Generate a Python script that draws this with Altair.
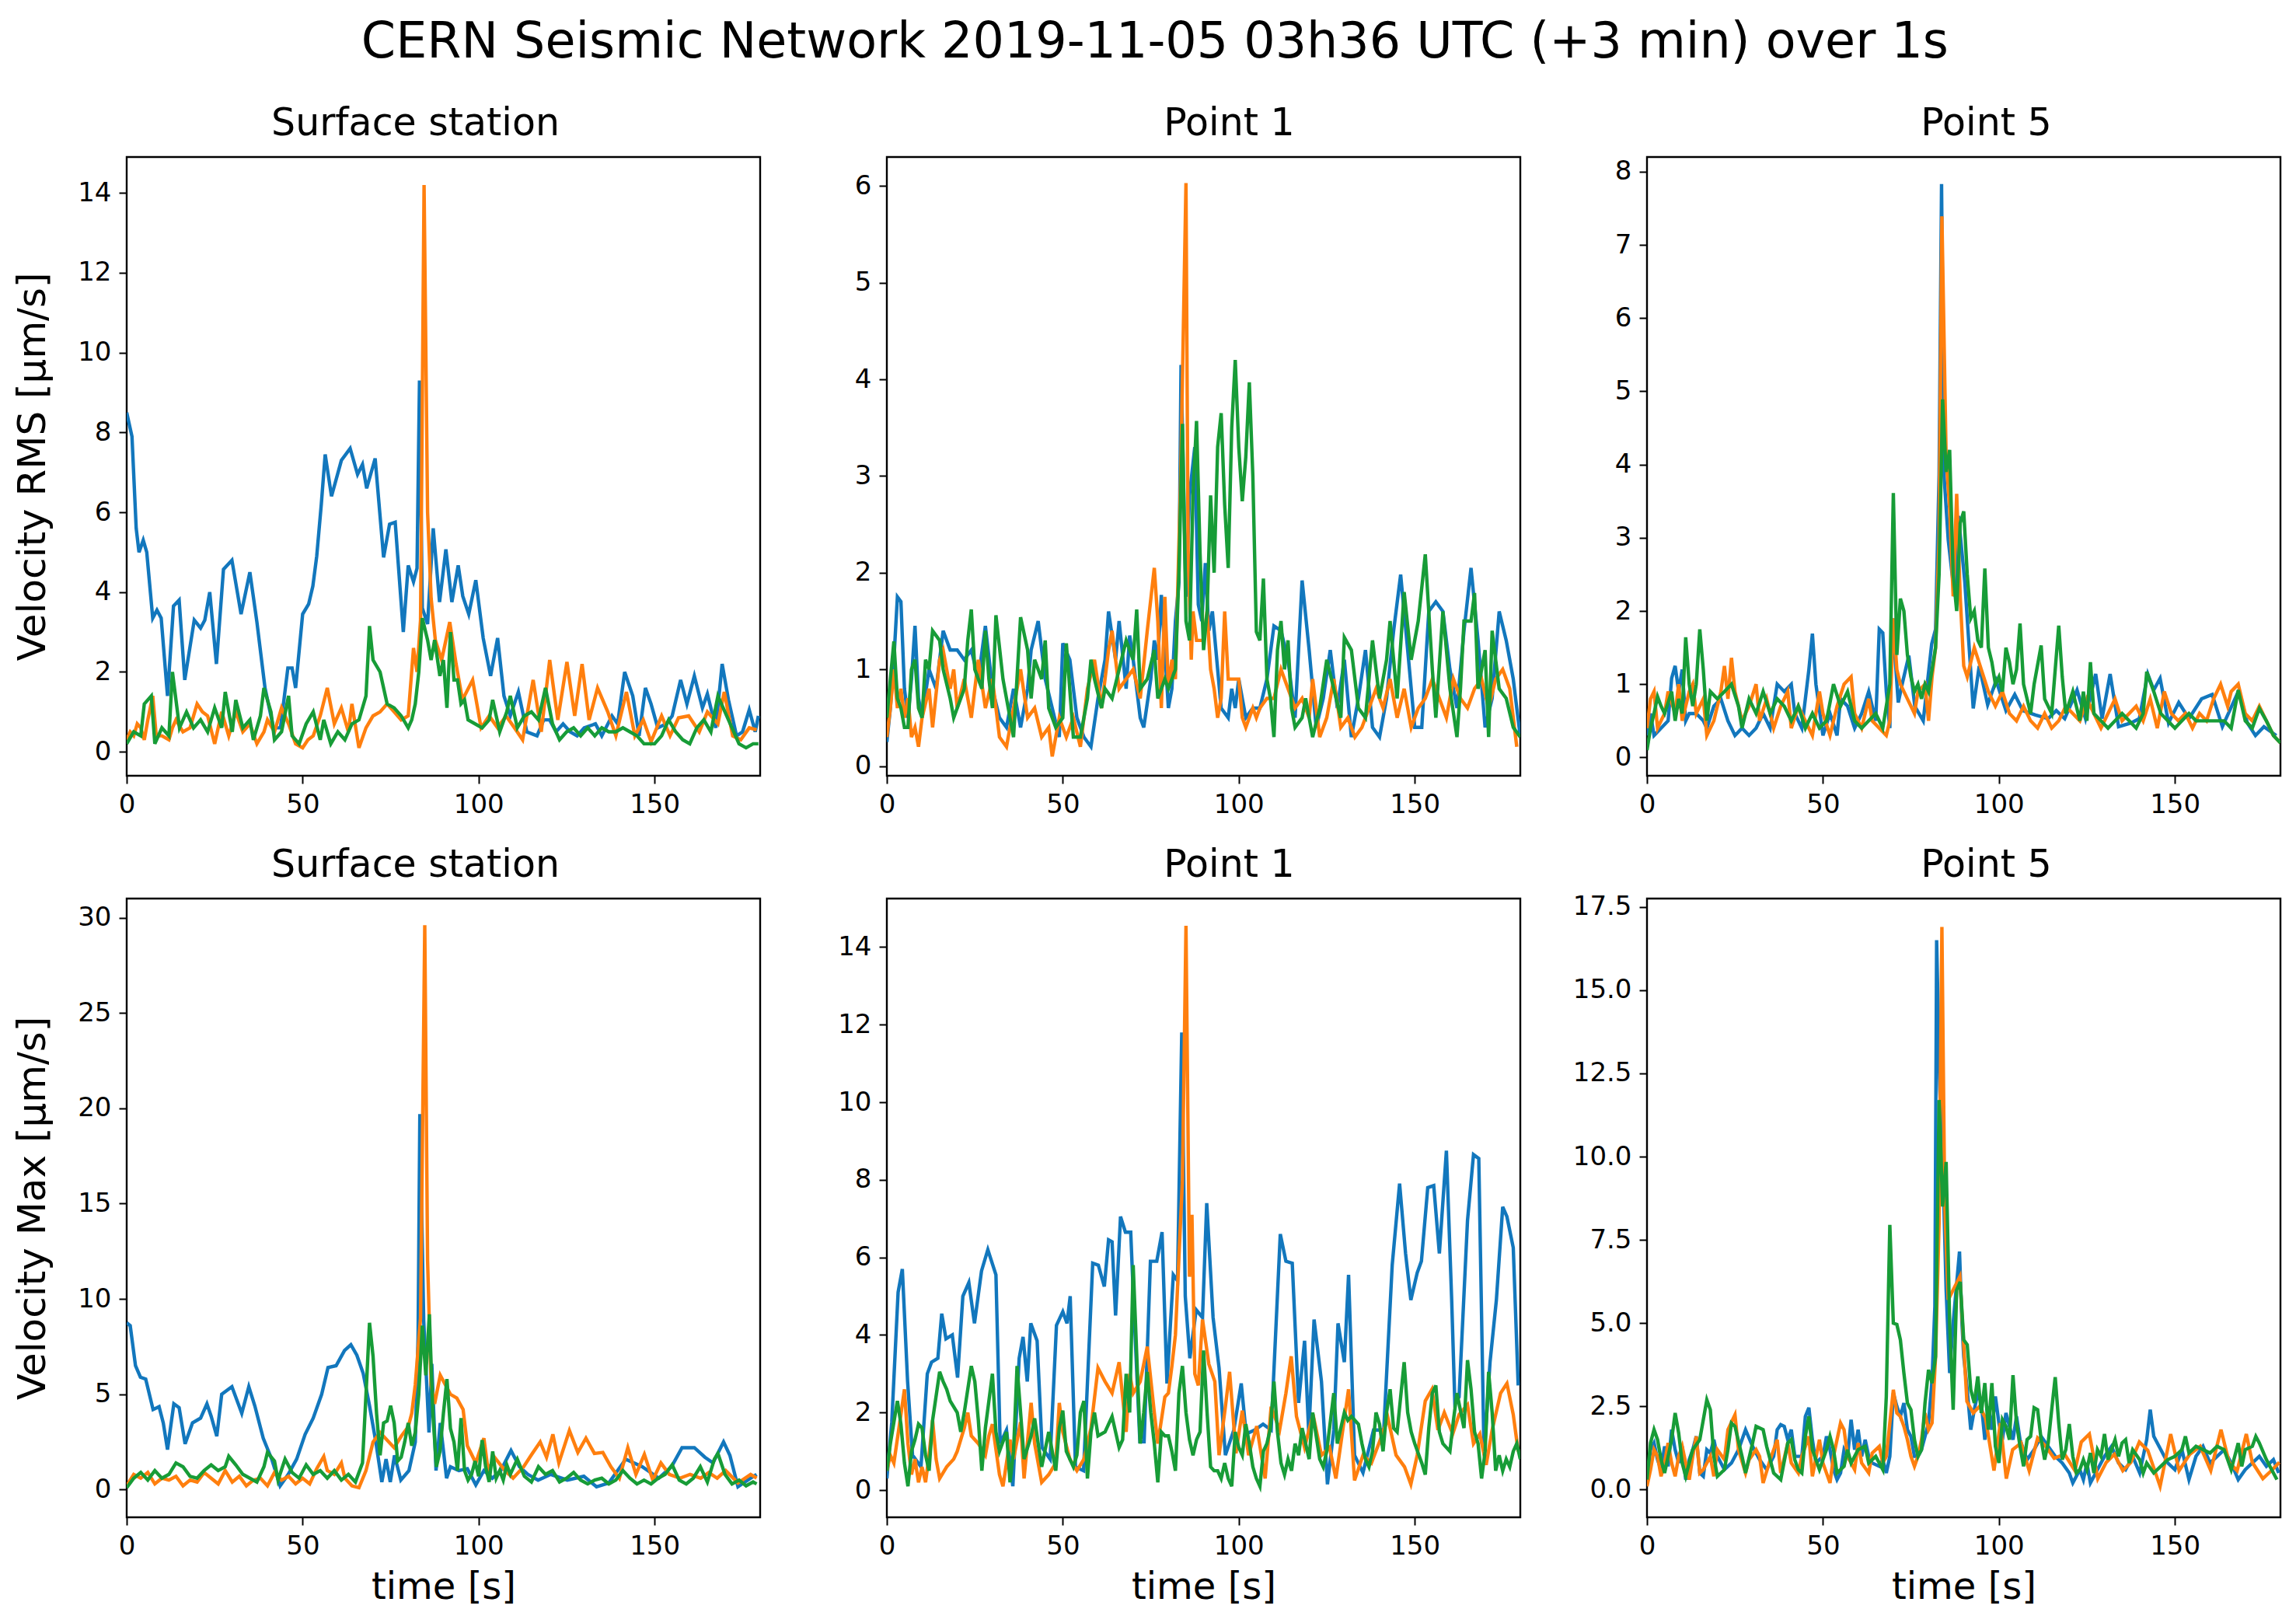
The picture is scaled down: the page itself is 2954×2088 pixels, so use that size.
import altair as alt
import pandas as pd

TITLE = "CERN Seismic Network 2019-11-05 03h36 UTC (+3 min) over 1s"
PANEL_TITLES = ["Surface station", "Point 1", "Point 5"]
Y_TITLES = ["Velocity RMS [μm/s]", "Velocity Max [μm/s]"]
X_TITLE = "time [s]"
X_TICKS = [0, 50, 100, 150]
COLORS = ["#1277bd", "#ff7f0e", "#179c37"]

# ---------------- Row 1 : Velocity RMS ----------------
P1_BLUE = [[0,8.5],[1.5,7.9],[2.7,5.6],[3.5,5.0],[4.7,5.3],[5.7,5.0],[7.4,3.35],[8.6,3.55],[9.8,3.35],[11.6,1.4],[13.3,3.65],[14.9,3.8],[16.5,1.8],[19.2,3.3],[21,3.1],[22.2,3.3],[23.6,4.0],[25.5,2.2],[27.5,4.57],[29.9,4.8],[32.5,3.45],[35,4.5],[37,3.25],[39.3,1.6],[41.7,0.6],[43.7,0.6],[45.8,2.1],[47,2.1],[48,1.6],[50,3.45],[51.7,3.7],[52.9,4.15],[54,4.9],[55.3,6.2],[56.4,7.45],[58.2,6.4],[61,7.3],[63.5,7.6],[65.6,6.95],[67,7.2],[68.2,6.6],[70.6,7.35],[73,4.87],[74.7,5.7],[76.3,5.75],[78.6,3.0],[80,4.67],[81.5,4.26],[82.5,4.6],[83.2,9.3],[84,3.6],[85.5,3.2],[87.1,5.6],[88.9,3.75],[90.7,5.07],[92.4,3.75],[94.2,4.67],[95.5,3.9],[97.2,3.45],[99.2,4.3],[101.3,2.85],[103.4,1.9],[105.4,2.85],[107.2,1.4],[109,0.9],[111.3,1.5],[113.7,0.5],[116.6,0.4],[118.5,0.8],[120.2,0.8],[122,0.5],[124,0.7],[126,0.5],[128,0.4],[130,0.6],[133.2,0.7],[135,0.4],[137.9,0.9],[139.5,0.7],[141.5,2.0],[143.8,1.4],[145.6,0.4],[147.4,1.6],[149,1.2],[150.9,0.6],[153.3,0.7],[155,0.9],[157.4,1.8],[159.2,1.2],[161.3,1.9],[163.6,1.1],[165,1.45],[167.4,0.6],[169.2,2.2],[171,1.3],[173.3,0.4],[175,0.5],[176.9,1.05],[178.6,0.5],[179.5,0.9]]
P1_ORANGE = [[0,0.3],[1,0.5],[2,0.4],[3,0.7],[4,0.6],[5,0.3],[6,0.8],[7.4,1.4],[8.4,0.4],[10,0.4],[12,0.3],[13,0.6],[14,0.8],[16,0.5],[18,0.6],[20,1.2],[21.5,1.0],[23,0.9],[25,0.2],[27,1.0],[29,0.4],[31,1.0],[33,0.5],[35,0.7],[37,0.2],[39,0.5],[40,0.8],[42,0.5],[44,1.1],[46,0.7],[48,0.2],[50,0.1],[51.5,0.3],[53,0.4],[55,0.9],[57,1.6],[59,0.7],[61,1.1],[63,0.5],[64,1.2],[66,0.1],[68,0.6],[70,0.9],[72,1.0],[74,1.2],[76,1.0],[78,0.8],[80,0.9],[81.5,2.6],[82.5,2.0],[83.5,3.3],[84.5,14.2],[85.5,6.0],[86.5,3.85],[87.7,2.8],[89.5,2.3],[91.8,3.25],[93.6,2.2],[95.4,1.3],[98.3,1.8],[100.7,0.6],[103,0.9],[105.4,0.6],[107.8,0.9],[110.2,0.6],[112.5,0.3],[115.5,1.8],[117.8,0.5],[120.2,2.3],[122.5,0.8],[125.1,2.25],[127.3,0.9],[129.4,2.2],[131.4,0.8],[133.8,1.6],[136.7,1.0],[139,0.4],[142,1.5],[144.4,0.4],[146.8,0.8],[149,0.25],[152,0.9],[154.4,0.4],[156.8,0.85],[159.7,0.9],[162.7,0.5],[165,1.0],[168,0.7],[169.8,1.5],[172.2,0.4],[174.5,0.3],[176.9,0.6],[179,0.55]]
P1_GREEN = [[0,0.2],[2,0.5],[4,0.4],[5,1.2],[7,1.4],[8,0.2],[10,0.6],[12,0.4],[13,2.0],[15,0.6],[17,1.0],[19,0.6],[21,0.8],[23,0.5],[25,1.1],[27,0.6],[28,1.5],[30,0.5],[31,1.3],[33,0.6],[35,0.8],[36,0.3],[38,0.9],[39,1.6],[41,1.0],[42,0.3],[44,0.5],[46,1.4],[47,0.4],[49,0.2],[51,0.7],[53,1.0],[55,0.3],[56,0.8],[58,0.2],[60,0.5],[62,0.3],[64,0.7],[66,0.8],[68,1.4],[69,3.15],[70,2.3],[72,2.0],[74,1.2],[76,1.1],[78,0.9],[80,0.6],[81,0.8],[82,1.2],[83,2.0],[84,3.35],[85.5,2.8],[86.5,2.3],[87.5,2.8],[89,1.9],[90,2.3],[91,1.1],[92,3.0],[93,1.8],[94,1.8],[95,1.2],[96,1.3],[97,0.8],[99,0.7],[101,0.6],[103,0.8],[104,1.3],[106,0.5],[108,1.0],[109,1.4],[111,0.6],[113,0.9],[115,1.0],[117,0.8],[119,1.6],[121,0.7],[123,0.3],[125,0.5],[127,0.6],[129,0.4],[131,0.6],[133,0.4],[135,0.6],[137,0.5],[139,0.5],[141,0.6],[143,0.5],[145,0.4],[147,0.2],[150,0.2],[152,0.4],[154,0.8],[156,0.5],[158,0.3],[160,0.2],[162,0.6],[164,0.8],[166,0.5],[168,1.4],[170,1.0],[172,0.6],[174,0.2],[176,0.1],[178,0.2],[179.5,0.2]]

P2_BLUE = [[0,0.25],[1,0.6],[2,1.1],[3,1.75],[4,1.7],[5,0.8],[6,0.5],[7,0.9],[8,1.45],[9,0.7],[10,0.5],[12,1.0],[14,0.8],[16,1.4],[18,1.2],[20,1.2],[22,1.1],[24,1.2],[26,0.9],[28,1.45],[30,0.8],[32,0.5],[34,0.4],[36,0.8],[38,0.4],[40,0.8],[41,1.2],[43,1.5],[45,0.9],[47,0.6],[49,0.3],[50,1.27],[52,1.1],[54,0.5],[56,0.3],[58,0.2],[60,0.7],[62,1.1],[63,1.6],[65,1.1],[66,1.5],[68,0.8],[69,1.35],[70,1.1],[72,0.5],[73,0.4],[75,0.9],[76,1.3],[77,1.1],[78,1.77],[80,0.6],[81,0.8],[82,1.5],[83,1.9],[83.6,4.15],[85,1.75],[86,2.8],[87.5,3.3],[88.5,1.67],[89.5,1.5],[90.5,2.1],[91.5,1.4],[92.5,1.6],[93.5,1.2],[95,0.6],[97,0.5],[98,0.8],[99,0.6],[100,0.9],[102,0.5],[104,0.6],[106,0.6],[108,0.9],[110,1.45],[112,1.4],[114,1.1],[116,0.5],[118,1.92],[120,1.2],[122,0.4],[124,0.7],[126,1.2],[128,0.6],[130,1.1],[132,0.3],[134,0.7],[136,1.2],[138,0.4],[140,0.3],[142,0.7],[144,1.4],[146,1.98],[148,1.2],[150,0.4],[152,0.4],[154,1.6],[156,1.7],[158,1.6],[160,1.0],[162,0.6],[164,1.4],[166,2.05],[168,1.3],[170,0.4],[172,0.7],[174,1.6],[176,1.3],[178,0.9],[180,0.3]]
P2_ORANGE = [[0,0.3],[1,0.6],[2,1.0],[3,0.6],[4,0.8],[5,0.5],[6,0.7],[7,0.3],[8,0.4],[9,0.2],[10,0.5],[12,0.8],[13,0.4],[15,1.1],[16,1.2],[18,0.8],[19,1.0],[20,0.6],[22,0.9],[24,0.5],[26,1.1],[28,0.6],[30,0.9],[32,0.3],[34,0.2],[36,0.6],[38,1.0],[40,0.5],[42,0.6],[44,0.3],[46,0.4],[47,0.1],[49,0.5],[51,0.3],[53,0.5],[55,0.2],[57,0.8],[59,1.1],[61,0.6],[63,1.2],[64,1.4],[66,0.8],[68,0.9],[70,1.0],[72,0.7],[74,1.4],[76,2.05],[77,1.5],[78,0.6],[79,1.75],[80,0.8],[81,1.1],[82,0.9],[83.5,3.0],[85,6.03],[85.6,2.25],[86.5,1.1],[87,1.6],[88,1.3],[90,1.3],[91,1.6],[92,1.0],[93,0.8],[94,0.5],[95,0.7],[96,1.6],[97,0.9],[98,0.9],[100,0.9],[101,0.5],[102,0.4],[104,0.6],[105,0.5],[106,0.6],[108,0.7],[110,0.7],[112,1.0],[114,0.8],[116,0.6],[118,0.7],[120,0.5],[121,0.9],[123,0.3],[125,0.5],[127,0.9],[129,0.4],[131,0.5],[133,0.3],[135,0.4],[137,0.6],[139,0.8],[141,0.6],[143,0.9],[145,0.5],[147,0.8],[149,0.4],[151,0.6],[153,0.7],[155,0.9],[157,0.7],[159,0.5],[161,0.9],[163,0.7],[165,0.6],[167,0.8],[169,0.9],[171,0.6],[173,0.9],[175,1.0],[177,0.8],[179,0.2]]
P2_GREEN = [[0,0.5],[1,0.9],[2,1.29],[3,0.7],[4,0.6],[5,0.4],[6,0.4],[7,1.0],[8,1.1],[9,0.6],[10,0.5],[11,1.1],[12,1.0],[13,1.4],[15,1.3],[16,1.0],[18,0.7],[19,0.5],[21,0.7],[22,0.8],[23,1.3],[24,1.62],[25,1.0],[27,0.8],[28,1.4],[29,0.9],[30,0.6],[31,1.56],[33,0.9],[35,0.5],[36,0.3],[38,1.54],[40,1.2],[41,0.7],[42,1.1],[44,0.9],[45,1.3],[46,0.6],[48,0.4],[50,0.5],[51,1.27],[53,0.3],[55,0.3],[57,0.7],[58,1.1],[59,0.9],[61,0.6],[62,0.8],[64,0.7],[66,1.0],[68,1.3],[70,1.1],[71,1.62],[72,0.8],[74,0.9],[76,1.2],[77,0.7],[79,0.9],[80,0.8],[82,1.0],[83,2.0],[84,3.54],[85,1.5],[86,1.3],[87,2.8],[88,3.57],[89,2.2],[90,1.2],[91,1.6],[92,2.8],[93,2.0],[94,3.3],[95,3.65],[96,2.7],[97,2.05],[98,3.5],[99,4.2],[100,3.3],[101,2.74],[102,3.2],[103,3.97],[104,3.0],[105,1.39],[106,1.3],[107,1.94],[108,0.9],[109,0.7],[110,0.3],[111,1.2],[112,1.5],[113,1.0],[114,1.3],[115,0.6],[116,0.4],[118,0.5],[119,0.7],[120,0.5],[121,0.3],[123,0.6],[125,1.1],[127,0.8],[129,0.5],[130,1.33],[132,1.2],[134,0.6],[136,0.5],[138,1.3],[140,0.7],[142,1.1],[143,1.5],[145,0.7],[147,1.8],[149,1.1],[151,1.5],[153,2.19],[155,1.0],[156,0.5],[158,1.6],[160,0.8],[162,0.3],[163,0.8],[164,1.5],[166,1.5],[167,1.79],[168,0.8],[170,1.2],[171,0.3],[172,1.4],[174,0.8],[176,0.7],[178,0.4],[180,0.3]]

P3_BLUE = [[0,0.3],[1,0.6],[2,0.3],[4,0.4],[6,0.5],[7,1.08],[8,1.25],[9,0.9],[10,1.2],[11,0.5],[12,0.6],[14,0.6],[16,0.5],[17,0.4],[19,0.7],[21,0.8],[23,0.5],[25,0.3],[27,0.4],[29,0.3],[31,0.4],[33,0.6],[35,0.4],[37,1.0],[39,0.9],[41,1.0],[42,0.6],[44,0.4],[46,1.2],[47,1.69],[48,1.0],[50,0.3],[52,0.6],[54,0.3],[55,0.8],[57,0.7],[59,0.4],[61,0.6],[63,0.9],[64,0.7],[65,0.5],[66,1.75],[67,1.7],[68,0.9],[69,0.4],[69.7,1.9],[71.4,0.75],[72.5,1.0],[74.4,1.39],[76.1,0.7],[78.5,0.5],[80.9,1.55],[82,1.75],[83,3.86],[83.7,7.83],[84.4,3.86],[85.6,2.97],[87.4,2.2],[88.5,3.3],[90.3,2.4],[92.7,0.67],[94.4,1.25],[96.8,0.72],[99.2,1.05],[102,0.64],[104.5,0.86],[106.8,0.64],[110.4,0.58],[114,0.53],[116.3,0.64],[118.7,0.53],[122.2,0.92],[124.6,0.53],[127.5,1.14],[129.3,0.53],[131.6,1.14],[134,0.42],[137.5,0.47],[139.9,0.53],[142.3,1.14],[144,0.92],[145.8,1.08],[148.2,0.47],[151.1,0.75],[154,0.53],[157.6,0.8],[160.6,0.86],[163.5,0.42],[168.2,0.92],[170.6,0.47],[172.9,0.3],[175.3,0.42],[178.8,0.3]]
P3_ORANGE = [[0,0.4],[1,0.8],[2,0.9],[3,0.4],[5,0.6],[6,0.9],[8,0.6],[9,1.0],[10,0.5],[12,0.9],[13,1.0],[14,0.6],[16,0.8],[17,0.3],[19,0.5],[21,0.9],[22,1.25],[23,0.8],[24,1.36],[25,0.9],[27,0.5],[29,0.7],[31,1.0],[32,0.5],[34,0.8],[36,0.4],[38,0.7],[40,0.9],[41,0.4],[43,0.7],[45,0.5],[47,0.3],[49,0.9],[50,0.6],[52,0.3],[54,0.7],[56,1.0],[58,1.1],[59,0.6],[61,0.4],[63,0.8],[64,0.5],[66,0.4],[68,0.3],[69,0.5],[70,1.9],[71,1.2],[72,1.0],[74,0.8],[76,0.6],[77,0.9],[79,1.0],[80,0.5],[81,1.1],[82,1.5],[83,3.0],[83.8,7.39],[85,4.1],[86,3.4],[87,2.2],[88,3.6],[89,2.2],[90,1.25],[91,1.1],[93,1.5],[95,1.2],[97,0.9],[99,0.7],[101,0.9],[103,0.6],[105,0.5],[107,0.7],[109,0.5],[111,0.4],[113,0.6],[115,0.4],[117,0.5],[119,0.7],[121,0.6],[123,0.5],[125,0.8],[127,0.6],[129,0.4],[131,0.6],[133,0.8],[135,0.5],[137,0.6],[139,0.7],[141,0.5],[143,0.8],[145,0.4],[147,0.9],[149,0.6],[151,0.5],[153,0.6],[155,0.4],[157,0.6],[159,0.5],[161,0.8],[163,1.0],[165,0.7],[166,0.9],[168,1.0],[170,0.6],[172,0.5],[174,0.7],[176,0.5],[178,0.3],[180,0.2]]
P3_GREEN = [[0,0.1],[1,0.4],[2,0.6],[3,0.83],[4,0.7],[5,0.6],[7,0.9],[8,0.5],[9,0.8],[10,0.6],[11,1.64],[12,1.0],[13,0.7],[14,1.0],[15,1.75],[16,1.2],[17,0.5],[18,0.9],[20,0.8],[22,0.9],[24,1.0],[26,0.7],[27,0.4],[29,0.8],[31,0.6],[33,0.9],[35,0.6],[37,0.8],[39,0.7],[41,0.5],[43,0.7],[45,0.4],[47,0.6],[49,0.4],[51,0.5],[53,1.0],[55,0.7],[57,0.9],[59,0.5],[61,0.4],[63,0.5],[65,0.6],[67,0.4],[69,1.0],[70,3.61],[71,1.4],[72,2.17],[73,2.0],[74,1.4],[75,1.1],[76,0.9],[77,1.0],[78,0.8],[79,1.0],[80,0.9],[81,1.2],[82,1.5],[83,2.5],[84,4.89],[85,3.9],[86,4.2],[87,2.5],[88,2.0],[89,3.2],[90,3.36],[91,2.5],[92,1.9],[93,2.0],[94,1.6],[95,1.5],[96,2.58],[97,1.5],[98,1.3],[99,1.0],[100,1.1],[101,0.9],[102,1.5],[103,1.3],[104,1.0],[105,1.2],[106,1.83],[107,1.0],[108,0.8],[109,0.6],[110,1.0],[112,1.53],[113,0.8],[115,0.6],[117,1.8],[118,1.1],[119,0.6],[121,0.9],[123,0.5],[124,0.9],[125,0.5],[126,1.3],[127,0.6],[129,0.5],[131,0.4],[133,0.5],[135,0.6],[137,0.5],[139,0.4],[141,0.6],[142,1.17],[144,0.9],[146,0.6],[148,0.5],[150,0.4],[152,0.5],[154,0.6],[156,0.5],[158,0.5],[160,0.5],[162,0.5],[164,0.5],[166,0.4],[168,0.92],[170,0.5],[172,0.4],[174,0.67],[176,0.5],[178,0.3],[180,0.2]]

# ---------------- Row 2 : Velocity Max ----------------
P4_BLUE = [[0,8.75],[1,8.6],[2.5,6.5],[3.9,5.9],[5.4,5.8],[7.5,4.2],[9.2,4.35],[10.4,3.5],[11.6,2.1],[13.4,4.5],[14.9,4.3],[16.6,2.4],[18.7,3.5],[21,3.75],[22.8,4.5],[24,3.85],[25.6,2.8],[27,5.0],[29.9,5.4],[32.7,4.0],[34.7,5.4],[36.4,4.4],[38.8,2.7],[41.2,1.6],[43.6,0.2],[45.9,0.8],[48.3,1.6],[50.7,2.9],[53,3.75],[55.4,5.0],[57.2,6.4],[59.5,6.5],[61.9,7.3],[63.7,7.6],[65.4,7.05],[67.2,6.1],[69,4.4],[70.8,2.5],[72.5,0.4],[73.7,1.6],[74.9,0.4],[76.1,1.8],[77.9,0.5],[80.2,1.0],[82,2.5],[82.8,8.0],[83.3,19.7],[84.4,8.85],[85.9,3.0],[86.7,6.6],[87.9,1.0],[89.1,3.5],[90.9,0.6],[92,1.2],[94.4,1.0],[96.8,1.1],[99.2,0.25],[101.5,1.0],[103.9,0.6],[106.3,1.0],[109.2,2.05],[111.6,1.2],[114,0.8],[116.9,0.5],[120.5,0.8],[125.2,0.5],[129.9,0.7],[133.5,0.15],[137,0.35],[141.8,1.6],[146.5,1.2],[151.2,0.6],[154.8,1.2],[157.8,2.2],[161.3,2.2],[164.3,1.7],[166.6,1.4],[169.6,2.5],[171.4,1.8],[173.7,0.15],[177.3,0.6],[179,0.8]]
P4_ORANGE = [[0,0.2],[2,0.8],[4,0.6],[6,0.9],[8,0.3],[10,0.6],[12,0.5],[14,0.7],[16,0.2],[18,0.5],[20,0.4],[22,0.9],[24,0.6],[26,0.3],[28,1.0],[30,0.4],[32,0.7],[34,0.2],[36,0.5],[38,0.6],[40,0.2],[42,0.9],[44,0.5],[46,0.7],[48,0.3],[50,0.6],[52,0.3],[54,1.1],[56,1.74],[57,1.0],[59,0.8],[61,1.4],[62,0.6],[64,0.2],[66,0.1],[68,1.0],[70,2.5],[72,3.0],[74,2.6],[76,2.2],[78,2.8],[80,3.3],[81,4.0],[82,5.5],[83.5,9.0],[84.7,29.6],[85.5,12.0],[86.5,5.5],[87.5,4.5],[89.1,6.0],[92,5.0],[93.8,4.8],[95.6,4.2],[96.8,2.3],[99.2,1.4],[101.5,2.7],[102.7,1.0],[104.5,1.7],[107.5,1.0],[109.8,0.6],[112.8,1.2],[115.1,1.85],[117.5,2.5],[119.3,1.7],[121.1,2.9],[122.8,1.4],[125.8,3.1],[128.2,1.95],[130.5,2.7],[132.9,1.9],[135.3,1.95],[137.6,1.2],[140,0.6],[142.4,2.2],[144.7,0.8],[147.1,1.85],[149.5,0.5],[151.8,1.4],[154.2,0.8],[157.2,0.6],[160.1,0.8],[163.1,0.6],[165.4,0.9],[167.8,0.6],[170.2,1.0],[173.7,0.35],[177.3,0.8],[179,0.6]]
P4_GREEN = [[0,0.1],[2,0.6],[4,0.9],[6,0.5],[8,1.0],[10,0.6],[12,0.8],[14,1.4],[16,1.2],[18,0.7],[20,0.6],[22,1.0],[24,1.3],[26,1.0],[28,1.2],[29,1.75],[31,1.3],[33,0.8],[35,0.6],[37,0.4],[39,1.2],[40,1.95],[42,1.5],[43,0.5],[45,1.6],[47,0.9],[49,0.6],[51,1.3],[53,0.8],[55,1.0],[57,0.6],[59,1.0],[61,0.5],[63,0.8],[65,0.4],[67,1.4],[68,5.0],[69,8.75],[70,7.0],[71,4.0],[72,1.8],[73,3.5],[74,3.6],[75,4.4],[76,3.5],[77,1.5],[78,1.7],[79,2.5],[80,3.5],[81,2.3],[82,3.0],[83,5.0],[84,8.6],[85,6.0],[86,9.2],[87,4.0],[88,1.2],[89,2.0],[90,4.0],[91,5.8],[92,3.2],[93,2.5],[94,1.0],[95,3.75],[96,1.0],[97,0.5],[98,0.8],[99,1.5],[100,0.7],[101,2.6],[102,1.2],[103,0.4],[104,2.0],[105,0.6],[106,1.0],[107,0.5],[108,1.3],[109,0.8],[111,1.6],[113,0.7],[115,0.4],[117,1.2],[119,0.8],[121,1.0],[123,0.4],[125,0.6],[127,0.9],[129,0.5],[131,0.3],[133,0.5],[135,0.6],[137,0.3],[139,0.5],[141,1.0],[143,0.6],[145,0.3],[147,0.5],[149,0.3],[151,0.6],[153,0.8],[155,1.3],[157,0.5],[159,0.3],[161,0.6],[163,1.2],[165,0.4],[167,1.6],[168,1.9],[170,0.8],[172,0.3],[174,0.5],[176,0.2],[178,0.4],[179,0.3]]

P5_BLUE = [[0,0.3],[1.4,1.75],[3.2,5.1],[4.4,5.7],[5.9,2.8],[7.3,0.9],[9.7,0.6],[11.5,3.0],[12.7,3.3],[14.5,3.4],[15.6,4.55],[16.8,3.9],[18.6,4.0],[20.1,2.9],[21.6,5.0],[23.3,5.35],[24.9,4.3],[26.9,5.65],[28.7,6.2],[31,5.55],[32.2,1.2],[34,1.55],[35.8,0.1],[37.6,3.4],[38.7,3.95],[39.9,2.8],[40.9,4.3],[42.7,3.85],[44.1,1.1],[46.4,0.8],[48.2,4.25],[50,4.6],[51.2,4.3],[52.1,5.0],[53.6,0.6],[55.9,0.5],[58.5,5.85],[60.1,5.8],[61.8,5.25],[63,6.45],[64,6.4],[65,4.5],[66.4,7.05],[67.8,6.65],[69.3,6.65],[70.1,4.9],[71.9,1.25],[73.1,1.25],[74.9,5.9],[76.7,5.9],[78.2,6.65],[79.6,2.75],[81.4,5.55],[82.6,5.4],[83.8,11.8],[84.8,5.0],[86.1,3.4],[87.9,4.65],[89.7,4.45],[90.9,7.4],[92.7,4.45],[94.4,3.15],[96.2,0.9],[98.6,1.55],[100.7,2.75],[102.1,1.45],[104.5,1.55],[106.9,1.7],[109.2,1.55],[111.8,6.6],[113.4,5.9],[115.2,5.85],[117,2.25],[118.7,3.85],[119.9,1.45],[121.4,4.4],[123.5,2.8],[125.2,0.15],[127,1.55],[128.2,4.3],[130,3.3],[131.2,5.55],[132.9,0.9],[135.3,0.45],[138.3,1.55],[141.2,1.55],[143.6,5.8],[145.7,7.9],[147.4,6.1],[148.9,4.9],[150.7,5.6],[151.9,5.9],[153.7,7.8],[155.4,7.85],[157,6.1],[159,8.75],[160.5,4.9],[161.4,2.25],[162.6,2.4],[165,6.95],[166.7,8.65],[168.2,8.55],[169.7,0.9],[171.4,3.3],[173.2,4.9],[175,7.3],[176.2,7.05],[178,6.25],[179.4,2.7]]
P5_ORANGE = [[0,0.5],[1,0.9],[2,0.7],[4,1.95],[5,2.6],[6,1.2],[7,0.4],[8,0.8],[9,0.2],[10,0.6],[11,0.2],[12,0.9],[13,1.8],[14,0.8],[15,0.3],[17,0.6],[19,0.8],[20,1.0],[22,1.6],[23,2.0],[24,1.4],[26,1.2],[28,0.9],[29,1.4],[30,1.7],[32,0.4],[33,0.1],[35,1.3],[36,0.8],[38,1.75],[39,0.3],[41,2.25],[42,1.2],[44,0.2],[46,0.4],[48,0.7],[49,2.25],[50,1.5],[52,0.8],[54,0.5],[56,0.8],[58,1.6],[60,3.15],[62,2.8],[64,2.5],[66,3.3],[68,1.5],[69,3.0],[70,2.5],[72,2.8],[74,3.7],[76,2.0],[77,1.2],[78,1.8],[79,2.4],[80,2.5],[81,3.2],[82,4.0],[83,6.0],[84,8.0],[85,14.55],[86,5.5],[86.7,7.1],[87.5,3.0],[88.5,2.7],[89.7,4.4],[91.5,3.25],[93.2,2.8],[94.4,0.9],[96.2,2.15],[97.4,3.05],[99.2,0.95],[101,2.05],[102.8,0.9],[105.1,1.65],[107.5,0.3],[109.2,2.15],[111.6,1.55],[113.4,2.5],[114.9,3.45],[116.4,1.9],[118.7,1.1],[121.1,1.95],[123.5,0.9],[125.8,1.1],[127.6,0.3],[129.4,1.45],[131.2,2.6],[132.9,0.25],[135.3,0.9],[137.7,0.7],[140,1.25],[142.4,1.85],[144.7,0.9],[147.1,0.6],[148.9,0.15],[150.7,0.9],[153,2.3],[154.9,2.6],[156.6,1.55],[158.4,2.0],[160.8,1.45],[162.6,1.95],[165,2.2],[166.7,1.2],[168.5,1.45],[170.3,0.65],[172,1.55],[174.4,2.5],[176.2,2.75],[178,1.95],[179.4,1.0]]
P5_GREEN = [[0,0.5],[1,1.2],[3,2.3],[4,1.7],[5,0.7],[6,0.1],[7,1.0],[8,1.3],[9,1.7],[10,1.6],[11,0.9],[12,0.5],[13,1.8],[15,3.05],[16,2.8],[17,2.6],[18,2.3],[20,2.0],[21,1.5],[22,2.0],[24,3.2],[25,2.8],[26,1.8],[27,0.5],[28,1.6],[29,2.3],[30,3.0],[31,1.5],[32,1.0],[34,1.5],[35,0.2],[36,1.0],[37,3.2],[38,2.0],[39,0.8],[41,1.4],[42,1.85],[43,1.2],[44,0.6],[46,1.5],[47,1.0],[48,0.5],[49,1.6],[50,2.05],[51,1.0],[53,0.6],[54,0.9],[55,2.0],[56,2.3],[57,0.3],[58,1.5],[59,2.0],[60,1.4],[62,1.5],[64,1.9],[66,1.1],[67,1.3],[68,3.0],[69,2.0],[70,5.8],[71,3.5],[72,1.2],[73,2.0],[74,3.05],[75,2.0],[76,1.2],[77,0.2],[78,1.5],[79,1.4],[80,1.4],[81,1.0],[82,0.5],[83,2.5],[84,3.2],[85,2.0],[86,1.3],[87,0.9],[88,1.3],[89,1.5],[90,3.6],[91,2.0],[92,0.6],[93,0.5],[94,0.5],[95,0.3],[96,0.7],[97,0.3],[98,0.1],[99,1.5],[100,1.1],[101,0.9],[102,1.7],[103,1.2],[104,0.6],[105,0.3],[106,0.1],[107,1.0],[108,1.2],[109,1.6],[110,2.8],[111,1.5],[112,0.7],[113,0.4],[114,0.8],[115,0.5],[116,1.2],[117,0.9],[118,1.6],[119,1.2],[120,0.8],[121,2.0],[122,1.4],[123,0.8],[124,0.6],[125,1.0],[127,2.5],[128,1.2],[130,2.0],[131,1.8],[132,1.9],[134,1.7],[135,1.2],[136,0.8],[137,0.6],[138,1.0],[139,2.0],[140,1.7],[141,1.0],[142,2.0],[143,2.6],[144,1.6],[145,1.5],[147,3.3],[148,2.0],[149,1.5],[150,1.2],[152,0.7],[153,0.4],[154,1.6],[155,2.5],[156,2.7],[157,1.5],[158,1.2],[160,1.0],[161,1.8],[162,2.5],[164,1.6],[165,3.35],[166,2.6],[167,1.5],[168,1.2],[169,0.3],[170,1.0],[171,3.05],[172,2.0],[173,0.5],[174,0.9],[175,0.5],[176,0.8],[177,0.6],[178,1.0],[179,1.2],[180,0.8]]

P6_BLUE = [[0,0.3],[1,1.2],[2,1.4],[3,0.9],[4,0.6],[5,1.3],[6,0.7],[7,1.8],[8,1.2],[9,0.8],[10,1.3],[11,0.3],[12,0.9],[13,1.2],[14,1.6],[15,0.5],[16,0.4],[17,1.2],[18,1.1],[19,1.5],[20,1.0],[22,0.6],[24,0.8],[26,1.2],[28,1.8],[30,1.3],[32,0.9],[34,0.6],[36,1.0],[37,1.8],[38,1.95],[39,1.9],[40,1.5],[41,1.8],[42,1.0],[44,1.0],[45,2.2],[46,2.46],[47,1.5],[48,0.8],[50,1.0],[51,1.6],[52,1.2],[53,0.6],[54,0.3],[55,0.5],[56,1.2],[57,1.0],[58,2.1],[59,1.2],[60,1.8],[61,1.0],[62,1.5],[63,1.0],[64,0.8],[66,0.7],[67,0.9],[68,0.5],[69,1.0],[70,2.9],[71,2.5],[72,2.2],[73,2.6],[74,1.8],[75,1.6],[76,1.0],[77,1.0],[78,1.2],[79,1.6],[80,2.0],[81,3.3],[81.8,5.5],[82.3,16.5],[83.2,12.0],[84,10.0],[85,6.0],[86,3.5],[87,5.0],[88.8,7.15],[89.5,5.0],[90,4.0],[91,3.0],[92,1.8],[93,2.4],[94,2.9],[95,2.6],[96,1.5],[97,2.5],[98,1.8],[99,2.8],[100,2.0],[101,1.5],[102,2.3],[104,1.5],[105,2.2],[106,1.5],[108,0.9],[110,1.2],[112,1.6],[114,1.3],[116,1.0],[118,0.8],[120,0.5],[121,0.2],[123,0.6],[124,0.3],[125,0.8],[126,0.2],[128,0.6],[130,1.0],[132,1.3],[134,0.8],[136,0.6],[138,1.0],[140,0.5],[142,1.5],[143,2.4],[144,1.6],[146,1.2],[148,0.8],[150,0.6],[152,1.2],[154,0.3],[156,1.0],[158,1.3],[160,0.8],[162,1.0],[164,1.2],[166,0.8],[168,0.3],[170,0.6],[172,0.8],[174,1.0],[176,0.7],[178,0.9],[179.5,0.5]]
P6_ORANGE = [[0,0.1],[1,0.6],[2,1.2],[3,1.0],[4,0.4],[5,0.8],[6,1.4],[7,0.8],[8,0.4],[9,1.0],[10,1.3],[11,0.8],[12,0.3],[13,1.0],[14,1.6],[15,0.5],[16,0.6],[18,1.0],[19,0.4],[20,1.2],[22,0.9],[23,1.8],[25,2.25],[26,1.2],[28,0.5],[29,0.9],[31,1.2],[32,1.0],[33,0.2],[35,0.9],[37,1.5],[38,0.5],[40,1.4],[41,0.8],[43,0.5],[44,1.0],[46,1.6],[47,0.4],[49,1.5],[50,0.8],[52,0.2],[53,1.0],[55,2.0],[56,1.8],[57,1.0],[59,0.6],[60,1.4],[61,0.8],[63,0.5],[64,1.1],[66,1.3],[67,0.8],[68,1.0],[69,2.0],[70,3.0],[71,2.3],[72,2.2],[73,1.9],[74,1.5],[75,1.0],[76,0.7],[77,1.0],[78,1.5],[79,2.3],[80,1.8],[81,2.0],[82,4.0],[83,8.0],[83.8,16.9],[84.6,8.6],[85.6,5.7],[87,6.0],[88.9,6.4],[90.9,2.65],[92.7,2.3],[94.5,2.5],[96.2,2.15],[98.6,0.57],[100.4,2.0],[102.1,0.33],[103.9,1.2],[106.3,1.4],[108.6,0.57],[111,1.55],[113.3,1.3],[115.7,0.94],[118.7,1.06],[121.6,0.57],[123.4,1.43],[125.7,1.67],[128.1,0.33],[130.5,0.82],[132.8,1.06],[135.2,0.57],[137.5,0.82],[139.9,1.43],[142.3,1.18],[145.8,0.1],[148.8,1.67],[151.2,0.57],[154.2,1.06],[157.2,1.3],[160.2,0.57],[163.1,1.8],[165.4,0.82],[167.7,0.57],[170.3,1.67],[172,0.82],[175,0.33],[177.4,0.57],[179.7,0.82]]
P6_GREEN = [[0,0.3],[1,1.4],[2,1.8],[3,1.5],[4,0.9],[5,0.5],[7,1.5],[8,2.3],[9,1.7],[10,0.8],[11,0.4],[13,1.2],[15,1.5],[17,2.7],[18,2.4],[19,1.0],[20,0.4],[22,0.6],[23,1.2],[24,2.0],[25,1.9],[27,1.0],[28,0.5],[30,1.4],[31,1.9],[33,1.8],[34,1.3],[36,0.5],[38,0.3],[40,1.4],[41,1.5],[42,0.9],[43,0.6],[44,0.5],[45,1.6],[46,2.2],[47,1.2],[48,0.9],[49,0.6],[51,1.2],[52,1.6],[53,1.2],[54,0.5],[56,0.7],[57,1.2],[58,0.8],[60,1.2],[62,1.3],[63,0.8],[65,1.0],[67,0.6],[68,2.8],[69,7.95],[70,5.0],[71,4.96],[72,4.5],[73,3.5],[74,2.6],[75,2.4],[76,1.5],[77,1.0],[78,1.2],[79,2.6],[80,3.6],[81,3.2],[82,4.0],[83,11.7],[84,8.5],[85,9.84],[86,5.0],[87,2.4],[88,6.0],[89,6.24],[90,4.5],[91,4.35],[92,3.0],[93,2.6],[94,3.4],[95,2.3],[96,3.2],[97,1.8],[98,3.2],[99,1.3],[100,0.8],[101,2.1],[102,1.9],[103,1.5],[104,3.44],[105,2.0],[106,1.3],[107,0.7],[108,1.5],[109,1.6],[110,2.46],[111,2.4],[112,1.5],[113,0.9],[114,1.4],[115,2.4],[116,3.38],[117,2.0],[118,0.9],[119,1.2],[120,1.97],[121,1.0],[122,0.5],[123,0.6],[124,0.9],[125,0.6],[126,1.1],[127,0.5],[128,1.2],[129,1.0],[130,1.67],[131,0.9],[132,1.2],[133,1.5],[134,1.0],[135,1.4],[136,1.5],[137,0.8],[138,1.2],[140,0.9],[141,0.5],[142,0.8],[144,0.5],[146,0.7],[148,0.9],[150,1.0],[152,1.2],[153,1.6],[154,1.1],[156,1.3],[158,1.2],[160,1.1],[162,1.3],[164,1.2],[165,0.9],[166,0.6],[168,1.4],[169,0.7],[170,1.2],[172,1.3],[173,1.6],[174,1.4],[176,0.9],[178,0.5],[179,0.3]]

PANELS = [
    # (series, y-domain, y ticks, y format, title, title dx, title dy, y title, x title)
    ([P1_BLUE, P1_ORANGE, P1_GREEN], [-0.6, 14.9], [0, 2, 4, 6, 8, 10, 12, 14], "d", PANEL_TITLES[0], -36, 0, Y_TITLES[0], None),
    ([P2_BLUE, P2_ORANGE, P2_GREEN], [-0.1, 6.3], [0, 1, 2, 3, 4, 5, 6], "d", PANEL_TITLES[1], 33, 0, None, None),
    ([P3_BLUE, P3_ORANGE, P3_GREEN], [-0.25, 8.2], [0, 1, 2, 3, 4, 5, 6, 7, 8], "d", PANEL_TITLES[2], 29, 0, None, None),
    ([P4_BLUE, P4_ORANGE, P4_GREEN], [-1.45, 31.0], [0, 5, 10, 15, 20, 25, 30], "d", PANEL_TITLES[0], -36, 0, Y_TITLES[1], X_TITLE),
    ([P5_BLUE, P5_ORANGE, P5_GREEN], [-0.7, 15.25], [0, 2, 4, 6, 8, 10, 12, 14], "d", PANEL_TITLES[1], 33, 0, None, X_TITLE),
    ([P6_BLUE, P6_ORANGE, P6_GREEN], [-0.83, 17.75], [0, 2.5, 5, 7.5, 10, 12.5, 15, 17.5], ".1f", PANEL_TITLES[2], 29, 6, None, X_TITLE),
]

FONT = "DejaVu Sans"


def make_panel(series, ydom, yticks, yfmt, title, tdx, tdy, ytitle, xtitle):
    layers = []
    for pts, color in zip(series, COLORS):
        df = pd.DataFrame(pts, columns=["t", "v"])
        layers.append(
            alt.Chart(df).mark_line(color=color, strokeWidth=4.4, clip=True).encode(
                x=alt.X("t:Q",
                        scale=alt.Scale(domain=[0, 180], nice=False, zero=False),
                        axis=alt.Axis(values=X_TICKS, title=xtitle, labelFlush=False,
                                      titlePadding=12, titleFontSize=48)),
                y=alt.Y("v:Q",
                        scale=alt.Scale(domain=ydom, nice=False, zero=False),
                        axis=alt.Axis(values=yticks, format=yfmt, title=ytitle,
                                      titlePadding=32, titleFontSize=50)),
            )
        )
    return alt.layer(*layers).properties(
        width=815, height=796,
        title=alt.TitleParams(title, font=FONT, fontSize=49, fontWeight="normal",
                              color="black", offset=18, anchor="middle",
                              dx=tdx, dy=tdy),
    )


charts = [make_panel(*p) for p in PANELS]

chart = alt.concat(
    *charts, columns=3, spacing={"row": 158, "column": 163}, bounds="flush"
).properties(
    title=alt.TitleParams(TITLE, font=FONT, fontSize=63.5, fontWeight="normal",
                          color="black", anchor="middle", offset=46, dx=10),
    padding={"left": 8, "top": 15, "right": 5, "bottom": 5},
    background="white",
).configure_view(
    stroke="black", strokeWidth=2.4
).configure_axis(
    labelFont=FONT, labelFontSize=34, labelColor="black",
    titleFont=FONT, titleFontWeight="normal", titleColor="black",
    tickSize=10, tickWidth=2, tickColor="black", domain=False, grid=False,
    labelPadding=10,
)

chart.save("out.html", embed_options={"renderer": "svg", "actions": False})
